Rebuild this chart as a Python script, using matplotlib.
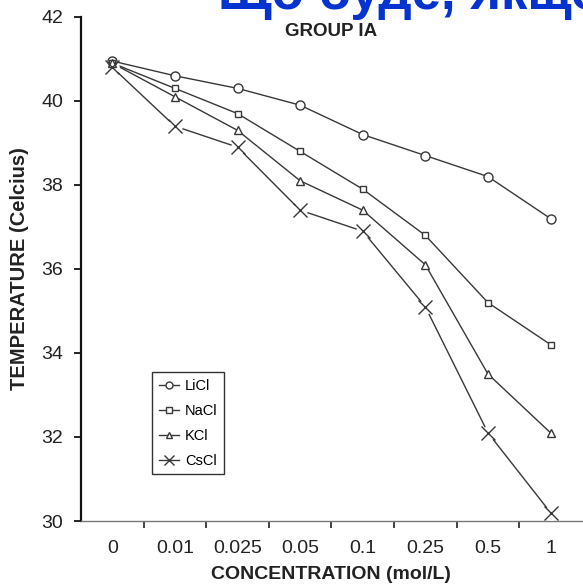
import matplotlib
matplotlib.use("Agg")
import matplotlib.pyplot as plt
import numpy as np

plt.rcParams['font.family'] = ['Liberation Sans', 'DejaVu Sans']

concentrations = ['0', '0.01', '0.025', '0.05', '0.1', '0.25', '0.5', '1']
licl = [40.95, 40.6, 40.3, 39.9, 39.2, 38.7, 38.2, 37.2]
nacl = [40.9, 40.3, 39.7, 38.8, 37.9, 36.8, 35.2, 34.2]
kcl = [40.9, 40.1, 39.3, 38.1, 37.4, 36.1, 33.5, 32.1]
cscl = [40.8, 39.4, 38.9, 37.4, 36.9, 35.1, 32.1, 30.2]

# name, values, marker, size on plot, size in legend
series = [
    ('LiCl', licl, 'o', 6.5, 5.0),
    ('NaCl', nacl, 's', 5.0, 4.0),
    ('KCl', kcl, '^', 6.0, 4.5),
    ('CsCl', cscl, 'x', 10.0, 7.5),
]

fig = plt.figure(figsize=(5.83, 5.85), dpi=100)
ax = fig.add_axes([0.139, 0.1094, 0.859, 0.8616])

x = np.arange(len(concentrations))
line_color = '#383838'

for name, vals, marker, ms, _ in series:
    ax.plot(x, vals, color=line_color, lw=1.0, zorder=2)
    if marker == 'x':
        # white disk under the cross so the line stops short of it
        ax.plot(x, vals, ls='none', marker='o', ms=ms * 1.05,
                mfc='white', mec='none', zorder=3)
    ax.plot(x, vals, ls='none', marker=marker, ms=ms, mfc='white',
            mec=line_color, mew=1.0, zorder=4)

ax.set_xlim(-0.5, len(concentrations) - 0.5)
ax.set_ylim(30, 42)
ax.set_yticks(np.arange(30, 43, 2))

ax.set_xticks(x)
ax.set_xticklabels(concentrations)
ax.set_xticks(np.arange(0.5, len(concentrations) - 0.5, 1), minor=True)
ax.tick_params(axis='x', which='major', length=0, pad=14, labelsize=14,
               labelcolor='#222222')
ax.tick_params(axis='x', which='minor', length=5, width=1.2, direction='out',
               color='#222222')
ax.tick_params(axis='y', length=5, width=1.2, direction='out', labelsize=14,
               labelcolor='#222222', pad=8)

for side in ('top', 'right'):
    ax.spines[side].set_visible(False)
ax.spines['left'].set_linewidth(1.6)
ax.spines['left'].set_color('#111111')
ax.spines['bottom'].set_linewidth(1.0)
ax.spines['bottom'].set_color('#777777')

ax.set_xlabel('CONCENTRATION (mol/L)', fontsize=14, fontweight='bold',
              color='#222222', labelpad=6)
ax.set_ylabel('TEMPERATURE (Celcius)', fontsize=14.5, fontweight='bold',
              color='#222222', labelpad=9)
ax.text(0.5, 0.972, 'GROUP IA', transform=ax.transAxes, fontsize=13.5,
        fontweight='bold', color='#222222', ha='center', va='center')

leg = ax.legend([plt.Line2D([], [], color=line_color, lw=1.0, marker=m,
                            ms=lms, mfc='white', mec=line_color)
                 for _, _, m, _, lms in series],
                [s[0] for s in series],
                loc='lower left', bbox_to_anchor=(0.128, 0.078),
                fontsize=10.5, frameon=True, fancybox=False,
                edgecolor='black', handlelength=1.4, handletextpad=0.4,
                labelspacing=0.75, borderpad=0.45)
leg.get_frame().set_linewidth(1.0)

fig.text(218 / 583, 1 - 9 / 585, 'Що буде, якщо', color='#0433d0',
         fontsize=38, fontweight='bold', ha='left', va='baseline')

fig.savefig('out.png', dpi=100)
